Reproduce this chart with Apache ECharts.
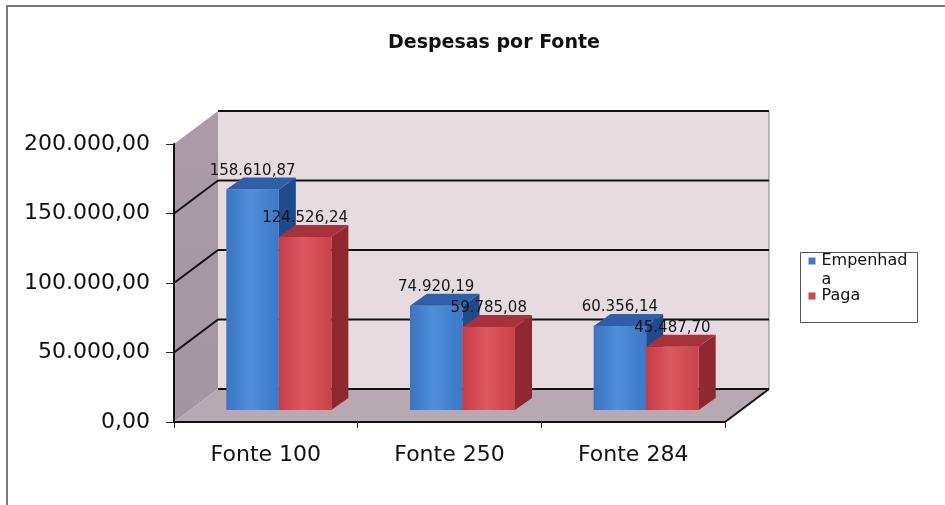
<!DOCTYPE html>
<html><head><meta charset="utf-8">
<script src="https://cdn.jsdelivr.net/npm/echarts@6/dist/echarts.min.js"></script>
<style>html,body{margin:0;padding:0;background:#fff}#c{width:945px;height:505px}</style>
</head><body><div id="c"></div>
<script>
const categories = ['Fonte 100', 'Fonte 250', 'Fonte 284'];
const empenhada = [158610.87, 74920.19, 60356.14];
const paga = [124526.24, 59785.08, 45487.70];
const yTicks = [0, 50000, 100000, 150000, 200000];
const seriesNames = ['Empenhada', 'Paga'];

function fmtBR(v) {
  const s = v.toFixed(2);
  const parts = s.split('.');
  return parts[0].replace(/\B(?=(\d{3})+(?!\d))/g, '.') + ',' + parts[1];
}

const FONT = 'DejaVu Sans';
const WALL_DX = 44, WALL_DY = -33;
const FACE_DX = 13, FACE_DY = -12;
const BAR_DX = 17, BAR_DY = -12;
const BAR_FRAC = 0.286;

const palette = [
  { front: ['#3b74c0', '#4f8fd9', '#3c78c5'], top: '#2d5fab', side: '#1f4a8c', legend: '#3f7ac4' },
  { front: ['#c63c44', '#dc5860', '#cb4249'], top: '#a8323a', side: '#90282f', legend: '#cf474e' }
];

function renderWalls(params, api) {
  const cs = params.coordSys;
  const x0 = cs.x, x1 = cs.x + cs.width;
  const yt = cs.y, yb = cs.y + cs.height;
  const ch = [];
  ch.push({ type: 'polygon', shape: { points: [[x0 + WALL_DX, yt + WALL_DY], [x1 + WALL_DX, yt + WALL_DY], [x1 + WALL_DX, yb + WALL_DY], [x0 + WALL_DX, yb + WALL_DY]] },
    style: { fill: '#e6dce0' } });
  ch.push({ type: 'polygon', shape: { points: [[x0, yt], [x0 + WALL_DX, yt + WALL_DY], [x0 + WALL_DX, yb + WALL_DY], [x0, yb]] },
    style: { fill: new echarts.graphic.LinearGradient(0, 0, 0, 1, [{ offset: 0, color: '#ab9ca8' }, { offset: 1, color: '#a396a0' }]) } });
  ch.push({ type: 'polygon', shape: { points: [[x0, yb], [x1, yb], [x1 + WALL_DX, yb + WALL_DY], [x0 + WALL_DX, yb + WALL_DY]] },
    style: { fill: '#b7a9b2' } });
  ch.push({ type: 'line', shape: { x1: x1 + WALL_DX, y1: yt + WALL_DY, x2: x1 + WALL_DX, y2: yb + WALL_DY }, style: { stroke: '#8a8088', lineWidth: 1 } });
  yTicks.forEach(function (v, k) {
    const y = api.coord([0, v])[1];
    ch.push({ type: 'line', shape: { x1: x0 + WALL_DX, y1: y + WALL_DY, x2: x1 + WALL_DX, y2: y + WALL_DY }, style: { stroke: '#111', lineWidth: 2 } });
    if (k > 0 && k < yTicks.length - 1) {
      ch.push({ type: 'line', shape: { x1: x0, y1: y, x2: x0 + WALL_DX, y2: y + WALL_DY }, style: { stroke: '#111', lineWidth: 2 } });
    }
  });
  ch.push({ type: 'line', shape: { x1: x1, y1: yb, x2: x1 + WALL_DX, y2: yb + WALL_DY }, style: { stroke: '#111', lineWidth: 2 } });
  return { type: 'group', children: ch };
}

function makeBarRender(sIdx) {
  const col = palette[sIdx];
  return function (params, api) {
    const ci = api.value(0), v = api.value(1);
    const top = api.coord([ci, v]);
    const base = api.coord([ci, 0]);
    const band = api.size([1, 0])[0];
    const w = band * BAR_FRAC;
    const cx = top[0] + FACE_DX;
    const xl = sIdx === 0 ? cx - w : cx;
    const xr = xl + w;
    const yt = top[1] + FACE_DY, yb = base[1] + FACE_DY;
    return {
      type: 'group',
      children: [
        { type: 'polygon', shape: { points: [[xr, yt], [xr + BAR_DX, yt + BAR_DY], [xr + BAR_DX, yb + BAR_DY], [xr, yb]] }, style: { fill: col.side } },
        { type: 'rect', shape: { x: xl, y: yt, width: w, height: yb - yt },
          style: { fill: new echarts.graphic.LinearGradient(0, 0, 1, 0, [{ offset: 0, color: col.front[0] }, { offset: 0.45, color: col.front[1] }, { offset: 1, color: col.front[2] }]) } },
        { type: 'polygon', shape: { points: [[xl, yt], [xr, yt], [xr + BAR_DX, yt + BAR_DY], [xl + BAR_DX, yt + BAR_DY]] }, style: { fill: col.top } },
        { type: 'text', z2: 100, style: { text: fmtBR(v), x: (xl + xr) / 2, y: yt + BAR_DY + 1, align: 'center', verticalAlign: 'bottom',
          fontSize: 15, fontFamily: FONT, fill: '#151515' } }
      ]
    };
  };
}

const chart = echarts.init(document.getElementById('c'), null, { renderer: 'canvas' });
chart.setOption({
  backgroundColor: '#ffffff',
  animation: false,
  title: { text: 'Despesas por Fonte', left: 388, top: 34, padding: 0,
    textStyle: { fontFamily: FONT, fontSize: 19, fontWeight: 'bold', color: '#111' } },
  grid: { left: 174, top: 144, right: 220, bottom: 83 },
  xAxis: {
    type: 'category', data: categories,
    axisLine: { show: true, lineStyle: { color: '#111', width: 2 } },
    axisTick: { show: true, length: 6, lineStyle: { color: '#222', width: 1 } },
    axisLabel: { fontFamily: FONT, fontSize: 22, color: '#111', margin: 22 },
    splitLine: { show: false }, z: 10
  },
  yAxis: {
    type: 'value', min: 0, max: 200000, interval: 50000,
    axisLine: { show: true, lineStyle: { color: '#111', width: 2 } },
    axisTick: { show: true, length: 8, lineStyle: { color: '#222', width: 1 } },
    axisLabel: { fontFamily: FONT, fontSize: 22, color: '#111', margin: 24, formatter: function (v) { return fmtBR(v); } },
    splitLine: { show: false }, z: 10
  },
  graphic: [
    { type: 'rect', z: -10, shape: { x: 7, y: 6, width: 1000, height: 1000 }, style: { fill: 'none', stroke: '#7a7a7a', lineWidth: 2 } },
    { type: 'group', left: 800, top: 252, children: [
      { type: 'rect', shape: { x: 0, y: 0, width: 117, height: 70 }, style: { fill: '#fff', stroke: '#555', lineWidth: 1 } },
      { type: 'rect', shape: { x: 8, y: 5, width: 7, height: 7 }, style: { fill: palette[0].legend } },
      { type: 'text', style: { text: 'Empenhad', x: 21, y: 8.5, verticalAlign: 'middle', fontSize: 16, fontFamily: FONT, fill: '#111' } },
      { type: 'text', style: { text: 'a', x: 21, y: 27, verticalAlign: 'middle', fontSize: 16, fontFamily: FONT, fill: '#111' } },
      { type: 'rect', shape: { x: 8, y: 40, width: 7, height: 7 }, style: { fill: palette[1].legend } },
      { type: 'text', style: { text: 'Paga', x: 21, y: 43.5, verticalAlign: 'middle', fontSize: 16, fontFamily: FONT, fill: '#111' } }
    ] }
  ],
  series: [
    { type: 'custom', name: 'walls', z: 1, silent: true, renderItem: renderWalls, data: [[0, 0]] },
    { type: 'custom', name: seriesNames[0], z: 2, renderItem: makeBarRender(0),
      data: empenhada.map(function (v, i) { return [i, v]; }) },
    { type: 'custom', name: seriesNames[1], z: 3, renderItem: makeBarRender(1),
      data: paga.map(function (v, i) { return [i, v]; }) }
  ]
});
</script></body></html>
